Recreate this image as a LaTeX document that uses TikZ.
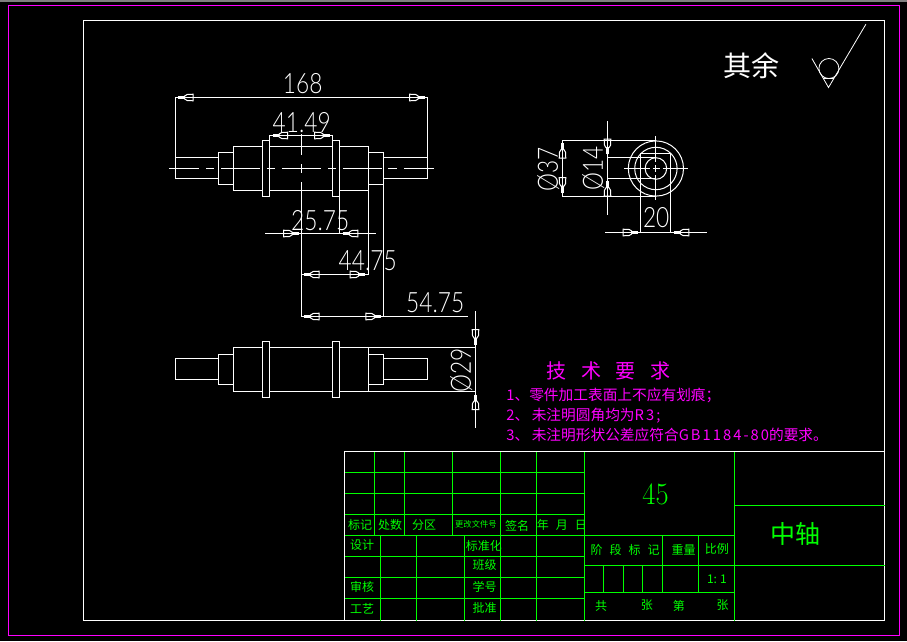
\documentclass[tikz,border=0pt]{standalone}
\usepackage{fontspec}
\newfontfamily\cjk{Noto Sans CJK SC}
\newfontfamily\cjkwide[LetterSpace=14]{Noto Sans CJK SC}
\newfontfamily\cadfont{Lato Light}
\definecolor{cadgreen}{RGB}{0,255,0}
\definecolor{cadpink}{RGB}{255,0,255}
\tikzset{
    part/.style={draw=white,line width=1pt},
    grid/.style={draw=cadgreen,line width=1pt},
    dimtext/.style={text=white,inner sep=0pt,font=\cadfont\fontsize{28}{28}\selectfont,xscale=0.81},
    title/.style={text=cadgreen,inner sep=0pt,font=\cjk\fontsize{12}{12}\selectfont},
    note/.style={text=cadpink,inner sep=0pt,anchor=west,font=\cjk\fontsize{14.7}{14.7}\selectfont},
    dimtip/.pic={
        \path[fill=white] (-6.5,-1.3) rectangle (0,1.3);
        \path[draw=white,line width=1pt] (-6.5,-1.5) -- (-9,-3) -- (-15,-3.3) -- (-15,3.3) -- (-9,3) -- (-6.5,1.5) -- cycle;
    }
}
\begin{document}
\begin{tikzpicture}[x=1pt,y=-1pt]
        \useasboundingbox (0,0) rectangle (907,641);
        \path[fill=black] (0,0) rectangle (907,641);
        \path[fill=gray] (0,0) rectangle (907,1.7);
    \begin{scope}[shift={(0.2,0.2)}]
        \path[draw=cadpink,line width=1pt] (8.3,5.3) rectangle (899.3,635.3);
        \path[part] (83.3,20.5) rectangle (884.5,620.3);

        % upper view
        \path[part] (175.3,157.3) rectangle (218.3,178.3);
        \path[part] (218.3,152.3) rectangle (233.3,184.3);
        \path[part] (233.3,146.3) rectangle (368.7,190.3);
        \path[part] (368.7,152.3) rectangle (383.3,184.3);
        \path[part] (383.3,157.3) rectangle (427.3,178.3);
        \path[part,fill=black] (262.3,140.3) rectangle (269.7,196.3);
        \path[part,fill=black] (332.3,140.3) rectangle (339.7,196.3);
        \path[part] (169,168.3) -- (199,168.3) (206,168.3) -- (214,168.3) (221,168.3) -- (260,168.3)
            (267,168.3) -- (275,168.3) (282,168.3) -- (321,168.3) (328,168.3) -- (336,168.3)
            (343,168.3) -- (382,168.3) (388,168.3) -- (397,168.3) (404,168.3) -- (434,168.3);
        \path[part] (301.3,134) -- (301.3,155) (301.3,164) -- (301.3,173) (301.3,182) -- (301.3,316.3);

        % dimensions of the upper view
        \path[part] (175.3,178) -- (175.3,97.3) -- (427.3,97.3) -- (427.3,178);
        \pic[rotate=180] at (178,97.3) {dimtip};
        \pic at (424.5,97.3) {dimtip};
        \node[dimtext] (len168) at (302.5,83) {168};
        \path[part] (269.3,146.3) -- (269.3,135.3) -- (332.3,135.3) -- (332.3,140.3);
        \pic[rotate=180] at (272.5,135.3) {dimtip};
        \pic at (329.5,135.3) {dimtip};
        \node[dimtext] (len41) at (301.5,122) {41.49};
        \path[part] (339.7,196.3) -- (339.7,233.3);
        \path[part] (265,233.3) -- (376,233.3);
        \pic at (298.3,233.3) {dimtip};
        \pic[rotate=180] at (342.7,233.3) {dimtip};
        \node[dimtext] (len25) at (320,220) {25.75};
        \path[part] (368.7,190.3) -- (368.7,274.3) -- (301.3,274.3);
        \pic[rotate=180] at (304,274.3) {dimtip};
        \pic at (365,274.3) {dimtip};
        \node[dimtext] (len44) at (367.5,260) {44.75};
        \path[part] (383.3,184.3) -- (383.3,316.3);
        \path[part] (301.3,316.3) -- (468,316.3);
        \pic[rotate=180] at (304,316.3) {dimtip};
        \pic at (380.6,316.3) {dimtip};
        \node[dimtext] (len54) at (435,302) {54.75};

        % lower view
        \path[part] (175.3,358.3) rectangle (218.3,379.3);
        \path[part] (218.3,354.3) rectangle (233.3,384.7);
        \path[part] (233.3,347.3) rectangle (368.7,391.3);
        \path[part] (368.7,354.3) rectangle (383.3,384.7);
        \path[part] (383.3,358.3) rectangle (427.3,379.3);
        \path[part,fill=black] (262.3,341.3) rectangle (269.7,397.3);
        \path[part,fill=black] (332.3,341.3) rectangle (339.7,397.3);
        \path[part] (368.7,347.3) -- (475.3,347.3) (368.7,391.3) -- (475.3,391.3);
        \path[part] (475.3,311) -- (475.3,427.7);
        \pic[rotate=-90] at (475.3,344.3) {dimtip};
        \pic[rotate=90] at (475.3,394.3) {dimtip};
        \node[rotate=90,dimtext] (dia29) at (461,370) {Ø29};

        % end view
        \path[part] (655.7,168.3) circle (27.6);
        \path[part] (655.7,168.3) circle (21.2);
        \path[part] (655.7,168.3) circle (10.8);
        \path[part] (624,168.3) -- (649.3,168.3) (652.7,168.3) -- (659.3,168.3) (662.7,168.3) -- (687.7,168.3);
        \path[part] (655.7,136) -- (655.7,161.7) (655.7,165) -- (655.7,171.7) (655.7,175) -- (655.7,200);
        \path[part] (655.7,140.3) -- (562.3,140.3) -- (562.3,196) -- (655.7,196);
        \pic[rotate=90] at (562.3,143) {dimtip};
        \pic[rotate=-90] at (562.3,192.5) {dimtip};
        \node[rotate=90,dimtext] (dia37) at (548,169.5) {Ø37};
        \path[part] (655.7,157.3) -- (607.3,157.3) (655.7,178.3) -- (607.3,178.3);
        \path[part] (607.3,121) -- (607.3,215);
        \pic[rotate=-90] at (607.3,154) {dimtip};
        \pic[rotate=90] at (607.3,181) {dimtip};
        \node[rotate=90,dimtext] (dia14) at (593,168.5) {Ø14};
        \path[part] (640.3,232.3) -- (640.3,153.3) -- (670.7,153.3) -- (670.7,232.3);
        \path[part] (605,232.3) -- (706.7,232.3);
        \pic at (638,232.3) {dimtip};
        \pic[rotate=180] at (673.7,232.3) {dimtip};
        \node[dimtext] (wid20) at (656,217.5) {20};

        % surface mark
        \node[text=white,inner sep=0pt,font=\cjk\fontsize{28}{28}\selectfont] (rest) at (751,65.5) {其余};
        \path[draw=white,line width=0.8pt] (811.7,58.3) -- (828.3,87.3) -- (865.7,24);
        \path[draw=white,line width=0.8pt] (828.7,68.3) circle (10);
        \path[draw=white,line width=0.8pt] (822.7,78.3) -- (834,78.3);

        % notes
        \node[text=cadpink,inner sep=0pt,font=\cjk\fontsize{20}{20}\selectfont] (notehead) at (608.3,370.7) {技\hspace{14.4pt}术\hspace{14.4pt}要\hspace{14.4pt}求};
        \node[note] (note1) at (506,395.7) {{\cjkwide 1}、零件加工表面上不应有划痕；};
        \node[note] (note2) at (506,415.7) {{\cjkwide 2}、\hspace{2.5pt}未注明圆角均为{\cjkwide R3;}};
        \node[note] (note3) at (506,435) {{\cjkwide 3}、\hspace{2.5pt}未注明形状公差应符合{\cjkwide GB1184-80}的要求。};

        % title block
        \path[grid] (344.3,472.3) -- (584.3,472.3) (344.3,493.3) -- (584.3,493.3) (344.3,514.3) -- (584.3,514.3)
            (344.3,535.3) -- (734.3,535.3) (344.3,556.3) -- (584.3,556.3) (344.3,577.3) -- (584.3,577.3)
            (344.3,598.3) -- (584.3,598.3);
        \path[grid] (374.3,451.3) -- (374.3,535.3) (404.3,451.3) -- (404.3,535.3) (452.3,451.3) -- (452.3,535.3)
            (500.3,451.3) -- (500.3,620.3) (536.3,451.3) -- (536.3,620.3) (584.3,451.3) -- (584.3,620.3)
            (734.3,451.3) -- (734.3,620.3);
        \path[grid] (380.3,535.3) -- (380.3,620.3) (416.3,535.3) -- (416.3,620.3) (464.3,535.3) -- (464.3,620.3);
        \path[grid] (584.3,565.3) -- (884.5,565.3) (734.3,505.3) -- (884.5,505.3) (584.3,592.3) -- (734.3,592.3);
        \path[grid] (662.3,535.3) -- (662.3,592.3) (698.3,535.3) -- (698.3,592.3);
        \path[grid] (603.3,565.3) -- (603.3,592.3) (623.3,565.3) -- (623.3,592.3) (642.3,565.3) -- (642.3,592.3);
        \path[part] (344.3,620.3) -- (344.3,451.3) -- (884.5,451.3);

        \node[title] (biaoji) at (360,524.5) {标记};
        \node[title] (chushu) at (390,524.5) {处数};
        \node[title] (fenqu) at (424,524.5) {分区};
        \node[title,font=\cjk\fontsize{8.3}{8.3}\selectfont] (genggai) at (475.7,524.3) {更改文件号};
        \node[title] (qianming) at (517,526) {签名};
        \node[title] (riqi) at (561.7,524.3) {年\hspace{7pt}月\hspace{7pt}日};
        \node[title] (sheji) at (362,545) {设计};
        \node[title] (biaozhun) at (483.7,546) {标准化};
        \node[title] (banji) at (484.4,565) {班级};
        \node[title] (xuehao) at (484.4,586.7) {学号};
        \node[title] (shenhe) at (362,586.7) {审核};
        \node[title] (gongyi) at (362,608.3) {工艺};
        \node[title] (pizhun) at (484.4,607.3) {批准};
        \node[title,font=\rmfamily\fontsize{31}{31}\selectfont,xscale=0.92] (material) at (655.3,493.7) {45};
        \node[title,font=\cjk\fontsize{25}{25}\selectfont] (partname) at (795.7,534) {中轴};
        \node[title] (jieduan) at (625,550) {阶\hspace{7pt}段\hspace{7pt}标\hspace{7pt}记};
        \node[title] (zhongliang) at (683.3,550) {重量};
        \node[title] (bili) at (716.7,549) {比例};
        \node[title] (scale) at (716.7,579) {1:\hspace{3pt}1};
        \node[title] (gong) at (601,605.3) {共};
        \node[title] (zhangA) at (646.7,605.3) {张};
        \node[title] (di) at (678.7,605.3) {第};
        \node[title] (zhangB) at (722.5,605.3) {张};
    \end{scope}
\end{tikzpicture}
\end{document}
